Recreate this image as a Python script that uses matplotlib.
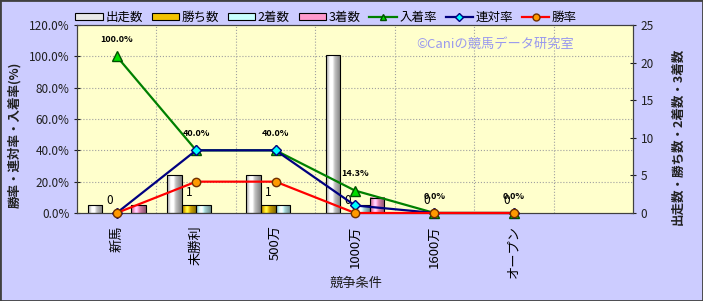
import numpy as np
import matplotlib
matplotlib.use('Agg')
import matplotlib.pyplot as plt
from matplotlib.colors import to_rgb
from matplotlib.patches import Rectangle
from matplotlib.lines import Line2D

plt.rcParams['font.family'] = ['Noto Sans CJK JP', 'DejaVu Sans']

# --- データ ---
categories = ['新馬', '未勝利', '500万', '1000万', '1600万', 'オープン', '']
starts = [1, 5, 5, 21, 0, 0]
wins = [0, 1, 1, 0, 0, 0]
seconds = [0, 1, 1, 1, 0, 0]
thirds = [1, 0, 0, 2, 0, 0]
place_rate = [100.0, 40.0, 40.0, 14.3, 0.0, 0.0]
quinella_rate = [0.0, 40.0, 40.0, 4.8, 0.0, 0.0]
win_rate = [0.0, 20.0, 20.0, 0.0, 0.0, 0.0]
pct_ticks = [0, 20, 40, 60, 80, 100, 120]
cnt_ticks = [0, 5, 10, 15, 20, 25]

bar_series = [('出走数', starts, '#E8E8E8'),
              ('勝ち数', wins, '#F2C200'),
              ('2着数', seconds, '#C8FFFF'),
              ('3着数', thirds, '#FF99CC')]


def gradient_bar(ax, x0, w, h, color):
    # 円柱っぽいグラデーション
    c = np.array(to_rgb(color))
    t = np.linspace(0, 1, 32)
    shade = 1 - 0.45 * np.abs(t - 0.35) / 0.65
    light = np.clip(c * shade[:, None], 0, 1)
    light = np.clip(light + 0.25 * np.exp(-((t - 0.35) / 0.15) ** 2)[:, None], 0, 1)
    ax.imshow(light[None, :, :], extent=[x0, x0 + w, 0, h], aspect='auto',
              zorder=2, interpolation='bilinear')


fig = plt.figure(figsize=(7.03, 3.01), dpi=100, facecolor='#CCCCFF')
ax = fig.add_axes([0.1095, 0.2924, 0.7909, 0.6246])
ax.set_facecolor('#FFFFCC')
ax2 = ax.twinx()

x = np.arange(len(categories))
n = len(starts)
w = 0.183

# グリッド
for p in pct_ticks[1:-1]:
    ax.axhline(p / pct_ticks[-1] * cnt_ticks[-1], color='#A0A0A0', ls=':', lw=0.8, zorder=0)
for b in x[:-1] + 0.5:
    ax.axvline(b, color='#A0A0A0', ls=':', lw=0.8, zorder=0)

# 棒グラフ
for k, (name, vals, col) in enumerate(bar_series):
    off = (k - 1.5) * w
    for i in range(n):
        if vals[i] > 0:
            x0 = x[i] + off - w / 2
            gradient_bar(ax, x0, w, vals[i], col)
            ax.add_patch(Rectangle((x0, 0), w, vals[i], fill=False,
                                   edgecolor='black', lw=0.8, zorder=3))

for i in range(n):
    ax.annotate(str(wins[i]), (x[i] - 0.5 * w, wins[i]), xytext=(0, 9),
                textcoords='offset points', ha='center', va='center', fontsize=8.5)

ax.set_xlim(-0.5, len(categories) - 0.5)
ax.set_ylim(0, cnt_ticks[-1])
ax.set_yticks(cnt_ticks)
ax.yaxis.tick_right()
ax.set_xticks(x)
ax.set_xticklabels(categories, rotation=90, fontsize=9.5)
ax.tick_params(axis='x', length=0, pad=9)
ax.tick_params(axis='y', labelsize=8.5, colors='#202020', direction='inout', length=4)

# 折れ線
ax2.plot(x[:n], place_rate, color='#008000', lw=1.6, marker='^', ms=7,
         mfc='#00DD00', mec='#005000', clip_on=False, zorder=5)
ax2.plot(x[:n], quinella_rate, color='#000080', lw=1.6, marker='D', ms=5,
         mfc='#00FFFF', mec='#000080', clip_on=False, zorder=6)
ax2.plot(x[:n], win_rate, color='#FF0000', lw=1.6, marker='o', ms=6,
         mfc='#FF9900', mec='#703000', clip_on=False, zorder=7)
for i in range(n):
    ax2.annotate(f'{place_rate[i]:.1f}%', (x[i], place_rate[i]), xytext=(0, 12),
                 textcoords='offset points', ha='center', va='center',
                 fontsize=6.5, fontweight='bold')

ax2.set_ylim(0, pct_ticks[-1])
ax2.set_yticks(pct_ticks)
ax2.set_yticklabels([f'{p:.1f}%' for p in pct_ticks])
ax2.yaxis.tick_left()
ax2.tick_params(axis='y', labelsize=8.5, colors='#202020', direction='inout', length=4)
for ax_ in (ax, ax2):
    for s in ax_.spines.values():
        s.set_color('#404040')

# 凡例
handles = [Rectangle((0, 0), 1, 1, facecolor=c, edgecolor='black', lw=0.8)
           for _, _, c in bar_series]
handles += [Line2D([], [], color='#008000', lw=1.6, marker='^', ms=5, mfc='#00DD00', mec='#005000'),
            Line2D([], [], color='#000080', lw=1.6, marker='D', ms=4, mfc='#00FFFF', mec='#000080'),
            Line2D([], [], color='#FF0000', lw=1.6, marker='o', ms=5, mfc='#FF9900', mec='#703000')]
labels = [s[0] for s in bar_series] + ['入着率', '連対率', '勝率']
fig.legend(handles, labels, loc='center', bbox_to_anchor=(326 / 703, 1 - 17 / 301),
           ncol=7, frameon=False, fontsize=9, handlelength=2.2, handleheight=0.5,
           handletextpad=0.2, columnspacing=0.7)

# テキスト
fig.text(0.0213, 0.551, '勝率・連対率・入着率(%)', rotation=90, ha='center', va='center',
         fontsize=9, fontweight='bold', color='#202020')
fig.text(0.9644, 0.548, '出走数・勝ち数・2着数・3着数', rotation=90, ha='center', va='center',
         fontsize=9, fontweight='bold', color='#202020')
fig.text(0.506, 1 - 283 / 301, '競争条件', ha='center', va='center', fontsize=9.5, color='#202020')
fig.text(495 / 703, 1 - 44 / 301, '©Caniの競馬データ研究室', ha='center', va='center',
         fontsize=9.5, color='#9999EE')

fig.add_artist(Rectangle((0, 0), 1, 1, transform=fig.transFigure, fill=False,
                         edgecolor='#404040', lw=2))

fig.savefig('out.png', dpi=100, facecolor=fig.get_facecolor())
